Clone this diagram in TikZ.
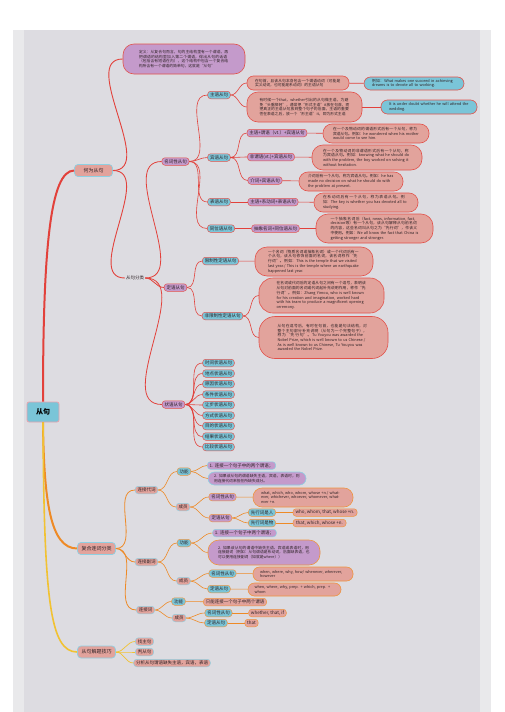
\documentclass[tikz,border=0pt]{standalone}
\usepackage{fontspec}
\setmainfont{Noto Sans CJK SC}
\usetikzlibrary{arrows.meta,positioning,calc}
\XeTeXlinebreaklocale "zh"
\XeTeXlinebreakskip = 0pt plus 1pt
\definecolor{Ink}{HTML}{2E2226}
\definecolor{Canvas}{HTML}{DDDCE1}
\definecolor{PageEdge}{HTML}{E9E9EB}
\definecolor{Cyan}{HTML}{7AC5D8}
\definecolor{Salmon}{HTML}{E2A39C}
\definecolor{Lilac}{HTML}{C49ACB}
\definecolor{RedEdge}{HTML}{E2524B}
\definecolor{PinkEdge}{HTML}{E8A3AE}
\definecolor{BlueEdge}{HTML}{8ED0E2}
\definecolor{OrangeEdge}{HTML}{EE9440}
\definecolor{RedLine}{HTML}{E2413B}
\definecolor{OrangeLine}{HTML}{EE8A26}
\definecolor{YellowLine}{HTML}{F1C232}
\tikzset{
  tag/.style={rounded corners=3pt,line width=0.5pt,inner xsep=2.3pt,inner ysep=0.6pt,minimum height=7.5pt,font=\fontsize{4.5}{5.2}\selectfont,text=Ink},
  tagcyan/.style={tag,fill=Cyan,draw=RedEdge},
  tagpur/.style={tag,fill=Lilac,draw=RedEdge},
  tagsal/.style={tag,fill=Salmon,draw=RedEdge},
  note/.style={rounded corners=6.5pt,line width=0.6pt,inner xsep=2pt,inner ysep=1.5pt,align=left,font=\fontsize{3.8}{4.7}\selectfont,text=Ink},
  notesal/.style={note,fill=Salmon,draw=RedEdge},
  notecyan/.style={note,fill=Cyan,draw=RedEdge},
  notepur/.style={note,fill=Lilac,draw=RedEdge},
  head/.style={rounded corners=3.5pt,line width=0.7pt,fill=Salmon,draw=BlueEdge,minimum width=38pt,minimum height=12pt,inner sep=1pt,font=\fontsize{5}{6}\selectfont,text=Ink},
  link/.style={draw=RedLine,line width=0.6pt},
  linko/.style={draw=OrangeLine,line width=0.6pt},
  linky/.style={draw=YellowLine,line width=0.7pt}
}
\begin{document}
\begin{tikzpicture}[x=1pt,y=-1pt]
\useasboundingbox (0,0) rectangle (504,712);
\fill[white] (0,0) rectangle (504,712);
\fill[PageEdge] (13,30) rectangle (491,712);
\fill[Canvas] (24,30) rectangle (480,712);

% centre
\node[rounded corners=2pt,line width=0.8pt,fill=Cyan,draw=PinkEdge,minimum width=32pt,minimum height=20pt,font=\fontsize{7}{8}\selectfont\bfseries,text=black] (root) at (43,412) {从句};

% 何为从句
\node[head] (what) at (93.5,170.5) {何为从句};
\node[notepur,rounded corners=11pt,text width=90pt,minimum width=122pt,minimum height=30pt] (defn) at (184,59) {定义：从复合句而言，句的主结构里有一个谓语，再把谓语的结构里加入第二个谓语，得出从句的话语（包括含有短语在内），这个结构中包含一个复合结构所含有一个谓语的简单句，这就是“从句”};
\node[font=\fontsize{4.5}{5.2}\selectfont,text=Ink,inner sep=1pt] (kinds) at (135,278) {从句分类};
\node[tagpur] (nominal) at (175.5,161.5) {名词性从句};
\node[tagpur] (attrib) at (175.5,287.5) {定语从句};
\node[tagpur] (advcl) at (173.5,404.5) {状语从句};

\node[tagcyan] (subj) at (219,95) {主语从句};
\node[tagcyan] (obj) at (219,157.5) {宾语从句};
\node[tagcyan] (pred) at (219,202) {表语从句};
\node[tagcyan] (appos) at (221,228.5) {同位语从句};

\node[notesal,text width=86pt,minimum width=102pt,minimum height=14pt] (s1) at (298,83) {在句首，且该从句本身包含一个谓语动词（可能是实义动词，也可能是系动词）的主语从句};
\node[notecyan,text width=84pt,minimum width=100pt,minimum height=13pt] (s1x) at (414,83.5) {例如：What makes one succeed in achieving dreams is to devote all to working.};
\node[notesal,rounded corners=11pt,text width=90pt,minimum width=115pt,minimum height=30pt] (s2) at (304.5,107) {有时候一个that，whether引出的从句做主语，为避免“头重脚轻”，通常把“形式主语”it放在句首，而把真正的主语从句放到整个句子的后面，主语的重要性在表语之后，放一个“形主语”it，即为形式主语};
\node[notecyan,text width=80pt,minimum width=96pt,minimum height=14pt] (s2x) at (429,107) {It is under doubt whether he will attend the wedding.};

\node[tagpur] (o1) at (277,133) {主语+谓语（vt.）+宾语从句};
\node[notesal,rounded corners=9pt,text width=86pt,minimum width=106pt,minimum height=19pt] (o1x) at (376,133.5) {在一个及物动词的谓语形式后有一个从句，称为宾语从句。例如：he wondered when his mother would come to see him.};
\node[tagpur] (o2) at (271,157) {非谓语(vt.)+宾语从句};
\node[notesal,rounded corners=11pt,text width=88pt,minimum width=110pt,minimum height=25pt] (o2x) at (367,157.5) {在一个及物动词的非谓语形式后有一个从句，称为宾语从句。例如：knowing what he should do with the problem, the boy worked on solving it without hesitation.};
\node[tagpur] (o3) at (265,180.5) {介词+宾语从句};
\node[notesal,rounded corners=9pt,text width=86pt,minimum width=104pt,minimum height=19pt] (o3x) at (351,181.5) {介词后有一个从句，称为宾语从句。例如：he has made no decision on what he should do with the problem at present.};

\node[tagpur] (p1) at (273,202) {主语+系动词+表语从句};
\node[notesal,rounded corners=9pt,text width=86pt,minimum width=104pt,minimum height=19pt] (p1x) at (366,202.5) {在系动词后有一个从句，称为表语从句。例如：The key is whether you has devoted all to studying.};
\node[tagpur] (a1) at (275.5,228.5) {抽象名词+同位语从句};
\node[notesal,rounded corners=12pt,text width=88pt,minimum width=117pt,minimum height=29pt] (a1x) at (374.5,228.5) {一个抽象名词后（fact, news, information, fact, decision等）有一个从句，该从句解释从句前名词的内容，这些名词叫从句之为“先行词”，作该义中使用。例如：We all know the fact that China is getting stronger and stronger.};

\node[tagcyan] (r1) at (220.5,261) {限制性定语从句};
\node[notesal,rounded corners=12pt,text width=92pt,minimum width=118pt,minimum height=29pt] (r1x) at (314,261.5) {一个名词（物质名词或抽象名词）或一个代词后有一个从句，该从句修饰前面的名词，该名词称作“先行词”。例如：This is the temple that we visited last year./ This is the temple where an earthquake happened last year.};
\node[tagcyan] (r2) at (222.5,316) {非限制性定语从句};
\node[notesal,rounded corners=14pt,text width=90pt,minimum width=125pt,minimum height=35pt] (r2a) at (321.5,295.5) {在名词或代词后的定语从句之间有一个逗号，表明该从句对前面的名词或代词起补充说明作用，称作“先行词”。例如：Zhang Yimou, who is well known for his creation and imagination, worked hard with his team to produce a magnificent opening ceremony.};
\node[notesal,rounded corners=16pt,text width=92pt,minimum width=129pt,minimum height=42pt] (r2b) at (323.5,337.5) {从句在逗号后，有时在句首，也能是句法结构，对整个主句部分补充说明（从句为一个完整句子），称为“先行句”。Tu Youyou was awarded the Nobel Prize, which is well known to us Chinese./ As is well known to us Chinese, Tu Youyou was awarded the Nobel Prize.};

\foreach \nm [count=\i from 0] in {时间,地点,原因,条件,让步,方式,目的,结果,比较}
  \node[tagcyan] (ac\i) at (218.5,363+10.5*\i) {\nm 状语从句};

% 复合连词分类
\node[head] (comp) at (96.5,548.5) {复合连词分类};
\node[tagsal,draw=BlueEdge] (pron) at (146.5,490) {连接代词};
\node[tagcyan,draw=OrangeEdge] (pronF) at (184,471.5) {功能};
\node[tagpur,draw=BlueEdge] (pronF1) at (241.5,465.5) {1. 连接一个句子中的两个谓语；};
\node[notepur,draw=BlueEdge,text width=86pt,minimum width=98pt,minimum height=13pt] (pronF2) at (257,478.5) {2. 如果该从句的谓语缺失主语，宾语，表语时，则用连接代词来担任所缺失成分。};
\node[tagsal,draw=BlueEdge] (pronM) at (183,507) {成员};
\node[tagpur,draw=OrangeEdge] (pronM1) at (222.5,497) {名词性从句};
\node[notesal,draw=OrangeEdge,rounded corners=9pt,text width=84pt,minimum width=100pt,minimum height=19pt] (pronM1x) at (303,497.5) {what, which, who, whom, whose +n./ whatever, whichever, whoever, whomever, whatever +n.};
\node[tagpur,draw=OrangeEdge] (pronM2) at (220.5,518) {定语从句};
\node[tagcyan,draw=OrangeEdge] (pronM2a) at (262,512.5) {先行词是人};
\node[tagsal,draw=OrangeEdge,minimum width=64pt] (pronM2ax) at (325,512.5) {who, whom, that, whose +n.};
\node[tagcyan,draw=OrangeEdge] (pronM2b) at (262,523) {先行词是物};
\node[tagsal,draw=OrangeEdge,minimum width=53pt] (pronM2bx) at (319.5,523) {that, which, whose +n.};

\node[tagsal,draw=BlueEdge] (cadv) at (146.5,562) {连接副词};
\node[tagcyan,draw=OrangeEdge] (cadvF) at (184,543) {功能};
\node[tagpur,draw=BlueEdge] (cadvF1) at (244.5,533) {1. 连接一个句子中两个谓语；};
\node[notepur,draw=OrangeEdge,rounded corners=11pt,text width=92pt,minimum width=112pt,minimum height=25pt] (cadvF2) at (264,552.5) {2. 如果该从句的谓语中缺失主语、宾语或表语时，用连接副词（例如：从句谓语是系动词，后面缺表语，也可以使用连接副词（如就是where））};
\node[tagsal,draw=BlueEdge] (cadvM) at (183.5,581) {成员};
\node[tagcyan,draw=OrangeEdge] (cadvM1) at (222.5,573.5) {名词性从句};
\node[notesal,draw=OrangeEdge,text width=86pt,minimum width=100pt,minimum height=14pt] (cadvM1x) at (303,574) {when, where, why, how/ whenever, wherever, however};
\node[tagcyan,draw=OrangeEdge] (cadvM2) at (219,589) {定语从句};
\node[notesal,draw=OrangeEdge,text width=80pt,minimum width=93pt,minimum height=13pt] (cadvM2x) at (294.5,589.5) {when, where, why, prep. + which, prep. + whom};

\node[tagsal,draw=BlueEdge] (conj) at (145.5,610) {连接词};
\node[tagcyan,draw=OrangeEdge] (conjF) at (178.5,601.5) {功能};
\node[tagsal,draw=OrangeEdge] (conjF1) at (235,602) {只能连接一个句子中两个谓语};
\node[tagsal,draw=BlueEdge] (conjM) at (179,618) {成员};
\node[tagcyan,draw=OrangeEdge] (conjM1) at (218.5,613) {名词性从句};
\node[tagsal,draw=OrangeEdge] (conjM1x) at (267.5,613) {whether, that, if};
\node[tagcyan,draw=OrangeEdge] (conjM2) at (216,623) {定语从句};
\node[tagsal,draw=OrangeEdge] (conjM2x) at (251.5,623) {that};

% 从句解题技巧
\node[head] (tips) at (96.5,652) {从句解题技巧};
\node[tagsal,draw=BlueEdge] (t1) at (144.5,641.5) {找主句};
\node[tagsal,draw=BlueEdge] (t2) at (144.5,652) {判从句};
\node[tagsal,draw=BlueEdge] (t3) at (172,663) {分析从句谓语缺失主语，宾语，表语};

% connectors
\draw[RedLine,line width=2pt] (root.north) .. controls (43,250) and (50,170.5) .. (what.west);
\draw[OrangeLine,line width=2pt] (root.south) .. controls (44,500) and (50,548.5) .. (comp.west);
\draw[YellowLine,line width=1.6pt] (root.south) .. controls (44,600) and (50,652) .. (tips.west);
\draw[link,line width=0.9pt] (what.east) to[out=0,in=180] (defn.west);
\draw[link,line width=0.9pt] (what.east) to[out=0,in=180] (kinds.west);
\foreach \c in {nominal,attrib,advcl} \draw[link,line width=0.8pt] (kinds.east) to[out=0,in=180] (\c.west);
\foreach \c in {subj,obj,pred,appos} \draw[link] (nominal.east) to[out=0,in=180] (\c.west);
\draw[link] (subj.east) to[out=0,in=180] (s1.west);\draw[link] (subj.east) to[out=0,in=180] (s2.west);
\draw[link] (s1)--(s1x);\draw[link] (s2)--(s2x);
\foreach \c in {o1,o2,o3} \draw[link] (obj.east) to[out=0,in=180] (\c.west);
\draw[link] (o1)--(o1x);\draw[link] (o2)--(o2x);\draw[link] (o3)--(o3x);
\draw[link] (pred)--(p1);\draw[link] (p1)--(p1x);
\draw[link] (appos)--(a1);\draw[link] (a1)--(a1x);
\draw[link] (attrib.east) to[out=0,in=180] (r1.west);\draw[link] (attrib.east) to[out=0,in=180] (r2.west);
\draw[link] (r1)--(r1x);
\draw[link] (r2.east) to[out=0,in=180] (r2a.west);\draw[link] (r2.east) to[out=0,in=180] (r2b.west);
\foreach \i in {0,...,8} \draw[link] (advcl.east) to[out=0,in=180] (ac\i.west);

\foreach \c in {pron,cadv,conj} \draw[linko,line width=0.8pt] (comp.east) to[out=0,in=180] (\c.west);
\draw[linko] (pron.east) to[out=0,in=180] (pronF.west);\draw[linko] (pron.east) to[out=0,in=180] (pronM.west);
\draw[linko] (pronF.east) to[out=0,in=180] (pronF1.west);\draw[linko] (pronF.east) to[out=0,in=180] (pronF2.west);
\draw[linko] (pronM.east) to[out=0,in=180] (pronM1.west);\draw[linko] (pronM.east) to[out=0,in=180] (pronM2.west);
\draw[linko] (pronM1)--(pronM1x);
\draw[linko] (pronM2.east) to[out=0,in=180] (pronM2a.west);\draw[linko] (pronM2.east) to[out=0,in=180] (pronM2b.west);
\draw[linko] (pronM2a)--(pronM2ax);\draw[linko] (pronM2b)--(pronM2bx);
\draw[linko] (cadv.east) to[out=0,in=180] (cadvF.west);\draw[linko] (cadv.east) to[out=0,in=180] (cadvM.west);
\draw[linko] (cadvF.east) to[out=0,in=180] (cadvF1.west);\draw[linko] (cadvF.east) to[out=0,in=180] (cadvF2.west);
\draw[linko] (cadvM.east) to[out=0,in=180] (cadvM1.west);\draw[linko] (cadvM.east) to[out=0,in=180] (cadvM2.west);
\draw[linko] (cadvM1)--(cadvM1x);\draw[linko] (cadvM2)--(cadvM2x);
\draw[linko] (conj.east) to[out=0,in=180] (conjF.west);\draw[linko] (conj.east) to[out=0,in=180] (conjM.west);
\draw[linko] (conjF)--(conjF1);
\draw[linko] (conjM.east) to[out=0,in=180] (conjM1.west);\draw[linko] (conjM.east) to[out=0,in=180] (conjM2.west);
\draw[linko] (conjM1)--(conjM1x);\draw[linko] (conjM2)--(conjM2x);

\foreach \c in {t1,t2,t3} \draw[linky] (tips.east) to[out=0,in=180] (\c.west);
\end{tikzpicture}
\end{document}
